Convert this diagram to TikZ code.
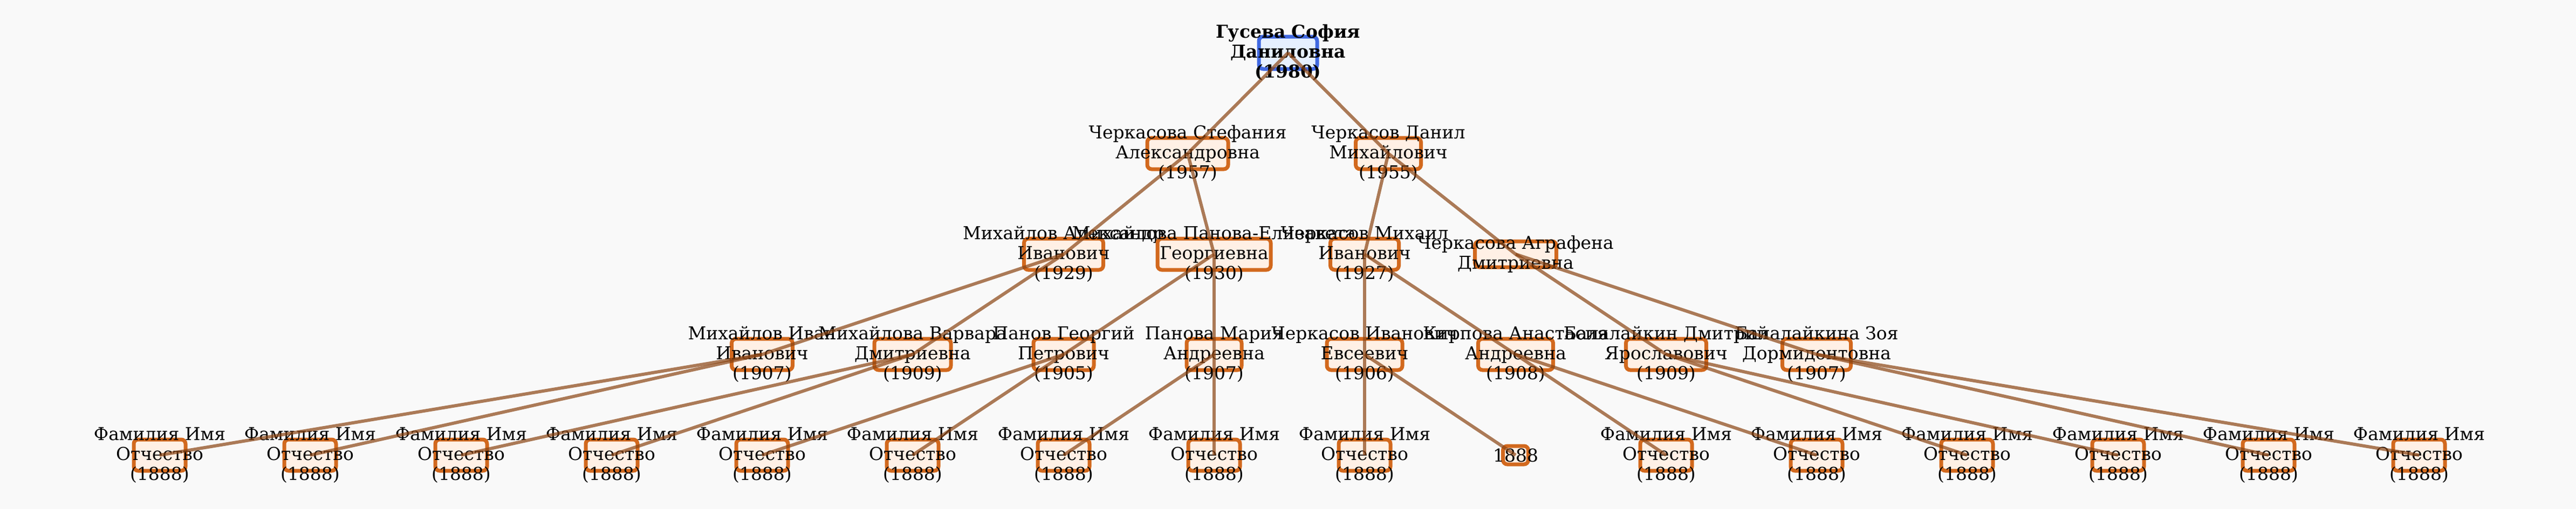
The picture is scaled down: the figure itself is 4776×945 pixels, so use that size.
\documentclass[tikz,border=0pt]{standalone}
\usepackage{fontspec}
\setmainfont{DejaVu Serif}
\usepackage{tikz}
\definecolor{pagebg}{HTML}{F9F9F9}
\definecolor{kinline}{HTML}{8B4513}
\definecolor{boxline}{HTML}{D2691E}
\definecolor{boxfill}{HTML}{FFF0E5}
\definecolor{rootline}{HTML}{4169E1}
\definecolor{rootfill}{HTML}{E6F0FF}
\tikzset{
  pbox/.style={draw=boxline, fill=boxfill, line width=7, rounded corners=8,
    inner sep=0, minimum height=58},
  ptext/.style={font=\fontsize{33}{37}\selectfont, align=center, inner sep=0},
  kin/.style={draw=kinline, draw opacity=0.7, line width=6},
}

\begin{document}
\begin{tikzpicture}[x=1pt, y=-1pt]
  \fill[pagebg] (0,0) rectangle (4776,945);
  \useasboundingbox (0,0) rectangle (4776,945);

  \node[pbox, draw=rootline, fill=rootfill, minimum width=108, minimum height=60,
    label={[ptext, font=\bfseries\fontsize{33}{37}\selectfont]center:{Гусева София\\Даниловна\\(1980)}}]
    (sofia) at (2388, 98) {};

  \node[pbox, minimum width=150,
    label={[ptext]center:{Черкасова Стефания\\Александровна\\(1957)}}]
    (stef) at (2202, 285) {};
  \node[pbox, minimum width=121,
    label={[ptext]center:{Черкасов Данил\\Михайлович\\(1955)}}]
    (danil) at (2574, 285) {};

  \node[pbox, minimum width=147,
    label={[ptext]center:{Михайлов Александр\\Иванович\\(1929)}}]
    (alex) at (1972, 472) {};
  \node[pbox, minimum width=210,
    label={[ptext]center:{Михайлова Панова-Елизавета\\Георгиевна\\(1930)}}]
    (eliz) at (2251, 472) {};
  \node[pbox, minimum width=127,
    label={[ptext]center:{Черкасов Михаил\\Иванович\\(1927)}}]
    (mikh) at (2530, 472) {};
  \node[pbox, minimum width=151, minimum height=48,
    label={[ptext]center:{Черкасова Аграфена\\Дмитриевна}}]
    (agraf) at (2810, 472) {};

  \node[pbox, minimum width=113,
    label={[ptext]center:{Михайлов Иван\\Иванович\\(1907)}}]
    (ivanM) at (1413, 658) {};
  \node[pbox, minimum width=142,
    label={[ptext]center:{Михайлова Варвара\\Дмитриевна\\(1909)}}]
    (varv) at (1692, 658) {};
  \node[pbox, minimum width=112,
    label={[ptext]center:{Панов Георгий\\Петрович\\(1905)}}]
    (georg) at (1972, 658) {};
  \node[pbox, minimum width=102,
    label={[ptext]center:{Панова Мария\\Андреевна\\(1907)}}]
    (maria) at (2251, 658) {};
  \node[pbox, minimum width=140,
    label={[ptext]center:{Черкасов Иванович\\Евсеевич\\(1906)}}]
    (ivanC) at (2530, 658) {};
  \node[pbox, minimum width=139,
    label={[ptext]center:{Кирпова Анастасия\\Андреевна\\(1908)}}]
    (anast) at (2810, 658) {};
  \node[pbox, minimum width=149,
    label={[ptext]center:{Балалайкин Дмитрий\\Ярославович\\(1909)}}]
    (dmitr) at (3089, 658) {};
  \node[pbox, minimum width=127,
    label={[ptext]center:{Балалайкина Зоя\\Дормидонтовна\\(1907)}}]
    (zoya) at (3368, 658) {};

  % unknown great-grandparents
  \node[pbox, minimum width=96, label={[ptext]center:{Фамилия Имя\\Отчество\\(1888)}}] (f1) at (296, 845) {};
  \node[pbox, minimum width=96, label={[ptext]center:{Фамилия Имя\\Отчество\\(1888)}}] (f2) at (575, 845) {};
  \node[pbox, minimum width=96, label={[ptext]center:{Фамилия Имя\\Отчество\\(1888)}}] (f3) at (855, 845) {};
  \node[pbox, minimum width=96, label={[ptext]center:{Фамилия Имя\\Отчество\\(1888)}}] (f4) at (1134, 845) {};
  \node[pbox, minimum width=96, label={[ptext]center:{Фамилия Имя\\Отчество\\(1888)}}] (f5) at (1413, 845) {};
  \node[pbox, minimum width=96, label={[ptext]center:{Фамилия Имя\\Отчество\\(1888)}}] (f6) at (1692, 845) {};
  \node[pbox, minimum width=96, label={[ptext]center:{Фамилия Имя\\Отчество\\(1888)}}] (f7) at (1972, 845) {};
  \node[pbox, minimum width=96, label={[ptext]center:{Фамилия Имя\\Отчество\\(1888)}}] (f8) at (2251, 845) {};
  \node[pbox, minimum width=96, label={[ptext]center:{Фамилия Имя\\Отчество\\(1888)}}] (f9) at (2530, 845) {};
  \node[pbox, minimum width=47, minimum height=34, label={[ptext]center:1888}] (f10) at (2810, 845) {};
  \node[pbox, minimum width=96, label={[ptext]center:{Фамилия Имя\\Отчество\\(1888)}}] (f11) at (3089, 845) {};
  \node[pbox, minimum width=96, label={[ptext]center:{Фамилия Имя\\Отчество\\(1888)}}] (f12) at (3368, 845) {};
  \node[pbox, minimum width=96, label={[ptext]center:{Фамилия Имя\\Отчество\\(1888)}}] (f13) at (3647, 845) {};
  \node[pbox, minimum width=96, label={[ptext]center:{Фамилия Имя\\Отчество\\(1888)}}] (f14) at (3927, 845) {};
  \node[pbox, minimum width=96, label={[ptext]center:{Фамилия Имя\\Отчество\\(1888)}}] (f15) at (4206, 845) {};
  \node[pbox, minimum width=96, label={[ptext]center:{Фамилия Имя\\Отчество\\(1888)}}] (f16) at (4485, 845) {};

  \draw[kin]
    (sofia.center) edge (stef.center)
    (sofia.center) edge (danil.center)
    (stef.center)  edge (alex.center)
    (stef.center)  edge (eliz.center)
    (danil.center) edge (mikh.center)
    (danil.center) edge (agraf.center);

  \draw[kin]
    (alex.center)  edge (ivanM.center)
    (alex.center)  edge (varv.center)
    (eliz.center)  edge (georg.center)
    (eliz.center)  edge (maria.center)
    (mikh.center)  edge (ivanC.center)
    (mikh.center)  edge (anast.center)
    (agraf.center) edge (dmitr.center)
    (agraf.center) edge (zoya.center);

  \draw[kin]
    (ivanM.center) edge (f1.center)
    (ivanM.center) edge (f2.center)
    (varv.center)  edge (f3.center)
    (varv.center)  edge (f4.center)
    (georg.center) edge (f5.center)
    (georg.center) edge (f6.center)
    (maria.center) edge (f7.center)
    (maria.center) edge (f8.center)
    (ivanC.center) edge (f9.center)
    (ivanC.center) edge (f10.center)
    (anast.center) edge (f11.center)
    (anast.center) edge (f12.center)
    (dmitr.center) edge (f13.center)
    (dmitr.center) edge (f14.center)
    (zoya.center)  edge (f15.center)
    (zoya.center)  edge (f16.center);
\end{tikzpicture}
\end{document}
